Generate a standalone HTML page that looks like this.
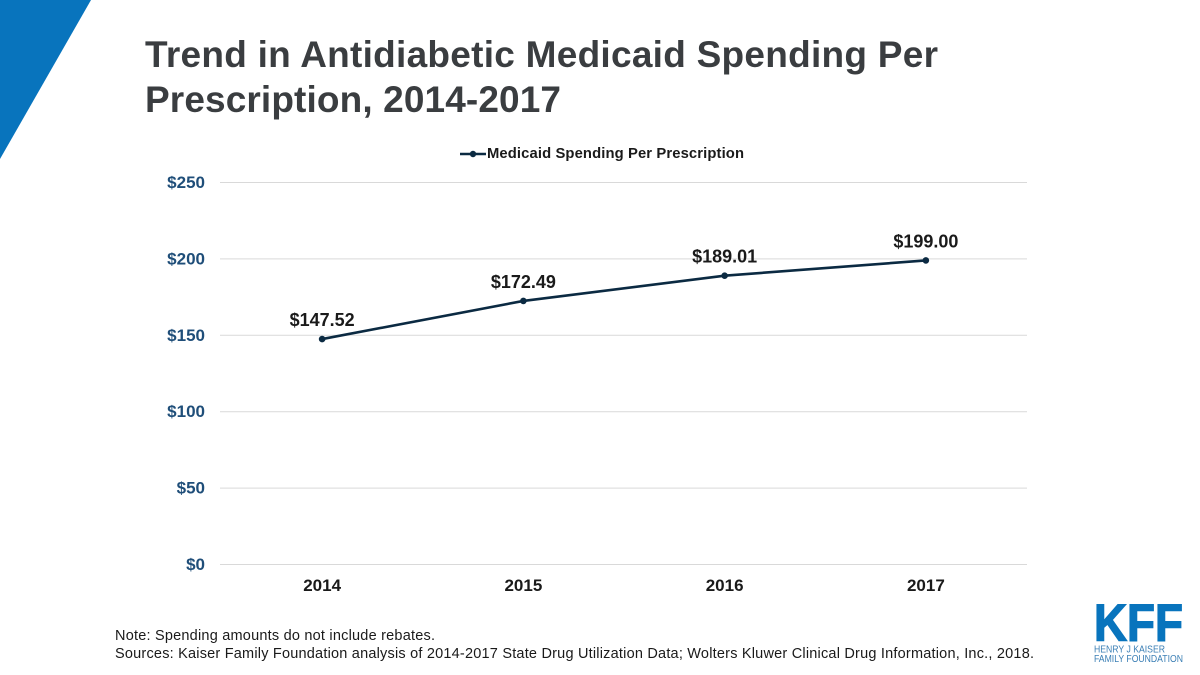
<!DOCTYPE html>
<html lang="en">
<head>
<meta charset="utf-8">
<title>Trend in Antidiabetic Medicaid Spending Per Prescription, 2014-2017</title>
<style>
html,body{margin:0;padding:0;background:#fff;width:1200px;height:675px;overflow:hidden}
svg{display:block;font-family:"Liberation Sans",Arial,sans-serif}
</style>
</head>
<body>
<svg id="chart" xmlns="http://www.w3.org/2000/svg" width="1200" height="675" viewBox="0 0 1200 675">
  <rect x="0" y="0" width="1200" height="675" fill="#ffffff"/>
  <polygon points="0,0 91,0 0,159" fill="#0874bd"/>
  <text x="145" y="67" font-size="37" font-weight="700" fill="#3a3d40" textLength="793" lengthAdjust="spacing">Trend in Antidiabetic Medicaid Spending Per</text>
  <text x="145" y="112" font-size="37" font-weight="700" fill="#3a3d40" textLength="416" lengthAdjust="spacing">Prescription, 2014-2017</text>

  <g>
    <line x1="460" y1="154" x2="486" y2="154" stroke="#0b2a42" stroke-width="2.5"/>
    <circle cx="473" cy="154" r="3.2" fill="#0b2a42"/>
    <text x="487" y="158" font-size="14.8" font-weight="700" fill="#1a1a1a" textLength="257" lengthAdjust="spacing">Medicaid Spending Per Prescription</text>
  </g>

  <g id="grid"></g>
  <g id="yaxis"></g>
  <g id="xaxis"></g>
  <g id="series"></g>

  <text x="115" y="640" font-size="14.5" fill="#1a1a1a" textLength="320" lengthAdjust="spacing">Note: Spending amounts do not include rebates.</text>
  <text x="115" y="658" font-size="14.5" fill="#1a1a1a" textLength="919" lengthAdjust="spacing">Sources: Kaiser Family Foundation analysis of 2014-2017 State Drug Utilization Data; Wolters Kluwer Clinical Drug Information, Inc., 2018.</text>

  <g>
    <text x="1094" y="640.5" font-size="52" font-weight="700" fill="#0874bd" stroke="#0874bd" stroke-width="1.4" textLength="89" lengthAdjust="spacingAndGlyphs">KFF</text>
    <text x="1094" y="652.5" font-size="10" fill="#3b7fb5" textLength="71" lengthAdjust="spacingAndGlyphs">HENRY J KAISER</text>
    <text x="1094" y="662" font-size="10" fill="#3b7fb5" textLength="89" lengthAdjust="spacingAndGlyphs">FAMILY FOUNDATION</text>
  </g>
</svg>
<script>
var categories = ["2014", "2015", "2016", "2017"];
var spending = [147.52, 172.49, 189.01, 199.00];
var valueLabels = ["$147.52", "$172.49", "$189.01", "$199.00"];
var yTicks = [0, 50, 100, 150, 200, 250];
var yTickLabels = ["$0", "$50", "$100", "$150", "$200", "$250"];

var NS = "http://www.w3.org/2000/svg";
var plot = { left: 220, right: 1027, top: 182.5, bottom: 564.5, catLeft: 221.5, catRight: 1026.5 };
var yMax = 250;

function xScale(i) {
  var band = (plot.catRight - plot.catLeft) / categories.length;
  return plot.catLeft + band * (i + 0.5);
}
function yScale(v) {
  return plot.bottom - (v / yMax) * (plot.bottom - plot.top);
}
function make(tag, attrs, text) {
  var el = document.createElementNS(NS, tag);
  for (var k in attrs) el.setAttribute(k, attrs[k]);
  if (text !== undefined) el.textContent = text;
  return el;
}

var grid = document.getElementById("grid");
var yaxis = document.getElementById("yaxis");
var xaxis = document.getElementById("xaxis");
var series = document.getElementById("series");

yTicks.forEach(function (t, i) {
  var y = yScale(t);
  var line = make("line", { x1: plot.left, x2: plot.right, y1: y, y2: y, stroke: "#d9d9d9", "stroke-width": 1 });
  
  
  grid.appendChild(line);
  var label = make("text", { x: 205, y: y + 5.5, "text-anchor": "end", "font-size": 17, "font-weight": 700, fill: "#1f4e79" }, yTickLabels[i]);
  
  
  yaxis.appendChild(label);
});

categories.forEach(function (c, i) {
  var label = make("text", { x: xScale(i), y: 591, "text-anchor": "middle", "font-size": 17, "font-weight": 700, fill: "#1a1a1a" }, c);
  
  
  xaxis.appendChild(label);
});

var pts = spending.map(function (v, i) { return xScale(i) + "," + yScale(v); }).join(" ");
var path = make("polyline", { points: pts, fill: "none", stroke: "#0b2a42", "stroke-width": 2.6, "stroke-linejoin": "round" });


series.appendChild(path);

spending.forEach(function (v, i) {
  var x = xScale(i), y = yScale(v);
  var dot = make("circle", { cx: x, cy: y, r: 3.3, fill: "#0b2a42" });
  
  
  series.appendChild(dot);
  var label = make("text", { x: x, y: y - 13, "text-anchor": "middle", "font-size": 18, "font-weight": 700, fill: "#1a1a1a" }, valueLabels[i]);
  
  
  series.appendChild(label);
});
</script>
</body>
</html>
